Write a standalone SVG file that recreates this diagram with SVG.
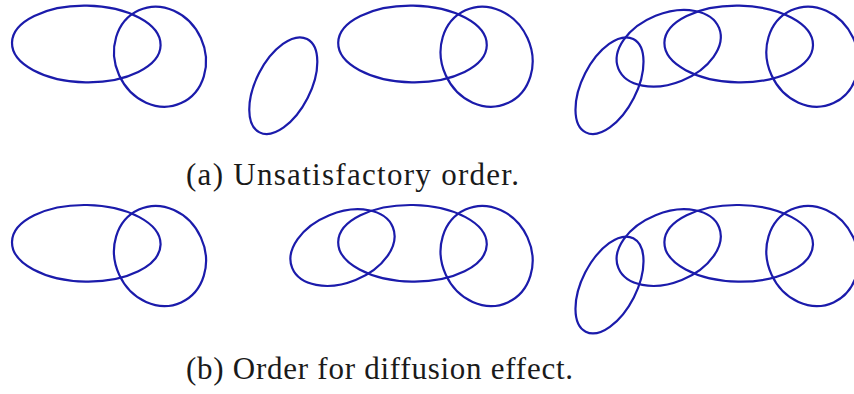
<svg xmlns="http://www.w3.org/2000/svg" width="854" height="394" viewBox="0 0 854 394">
<style>
  .e { fill: none; stroke: #1b1bab; stroke-width: 2.2; }
  .cap { font-family: "Liberation Serif", "Times New Roman", serif; font-size: 31px; fill: #1a1a1a; }
</style>
<rect width="854" height="394" fill="#ffffff"/>
<g id="row-a">
  <g id="a-big1"><ellipse class="e" cx="0" cy="0" rx="74.3" ry="38.3" transform="translate(86.3 44) rotate(1)"/></g>
  <g id="a-round1"><ellipse class="e" cx="0" cy="0" rx="44.9" ry="51" transform="translate(160 56.7) rotate(-24.5)"/></g>
  <g id="a-small1"><ellipse class="e" cx="0" cy="0" rx="27.3" ry="52.4" transform="translate(283.3 85.7) rotate(27)"/></g>
  <g id="a-big2"><ellipse class="e" cx="0" cy="0" rx="74.3" ry="38.3" transform="translate(412.5 44) rotate(1)"/></g>
  <g id="a-round2"><ellipse class="e" cx="0" cy="0" rx="44.9" ry="51" transform="translate(486.6 56.7) rotate(-24.5)"/></g>
  <g id="a-small2"><ellipse class="e" cx="0" cy="0" rx="27.3" ry="52.4" transform="translate(609.5 85.7) rotate(27)"/></g>
  <g id="a-mid"><ellipse class="e" cx="0" cy="0" rx="54.3" ry="35" transform="translate(668.7 48.3) rotate(-22)"/></g>
  <g id="a-big3"><ellipse class="e" cx="0" cy="0" rx="74.3" ry="38.3" transform="translate(738.7 44) rotate(1)"/></g>
  <g id="a-round3"><ellipse class="e" cx="0" cy="0" rx="44.9" ry="51" transform="translate(812.4 56.7) rotate(-24.5)"/></g>
</g>
<g id="row-b">
  <g id="b-big1"><ellipse class="e" cx="0" cy="0" rx="74.3" ry="38.3" transform="translate(86.3 243.3) rotate(1)"/></g>
  <g id="b-round1"><ellipse class="e" cx="0" cy="0" rx="44.9" ry="51" transform="translate(160 256) rotate(-24.5)"/></g>
  <g id="b-mid1"><ellipse class="e" cx="0" cy="0" rx="54.3" ry="35" transform="translate(342.5 247.6) rotate(-22)"/></g>
  <g id="b-big2"><ellipse class="e" cx="0" cy="0" rx="74.3" ry="38.3" transform="translate(412.5 243.3) rotate(1)"/></g>
  <g id="b-round2"><ellipse class="e" cx="0" cy="0" rx="44.9" ry="51" transform="translate(486.6 256) rotate(-24.5)"/></g>
  <g id="b-small"><ellipse class="e" cx="0" cy="0" rx="27.3" ry="52.4" transform="translate(609.5 285) rotate(27)"/></g>
  <g id="b-mid2"><ellipse class="e" cx="0" cy="0" rx="54.3" ry="35" transform="translate(668.7 247.6) rotate(-22)"/></g>
  <g id="b-big3"><ellipse class="e" cx="0" cy="0" rx="74.3" ry="38.3" transform="translate(738.7 243.3) rotate(1)"/></g>
  <g id="b-round3"><ellipse class="e" cx="0" cy="0" rx="44.9" ry="51" transform="translate(812.4 256) rotate(-24.5)"/></g>
</g>
<g id="connectors"/>
<text id="caption-a" class="cap" x="186" y="185" textLength="333" lengthAdjust="spacing">(a) Unsatisfactory order.</text>
<text id="caption-b" class="cap" x="186" y="379" textLength="387" lengthAdjust="spacing">(b) Order for diffusion effect.</text>
</svg>
